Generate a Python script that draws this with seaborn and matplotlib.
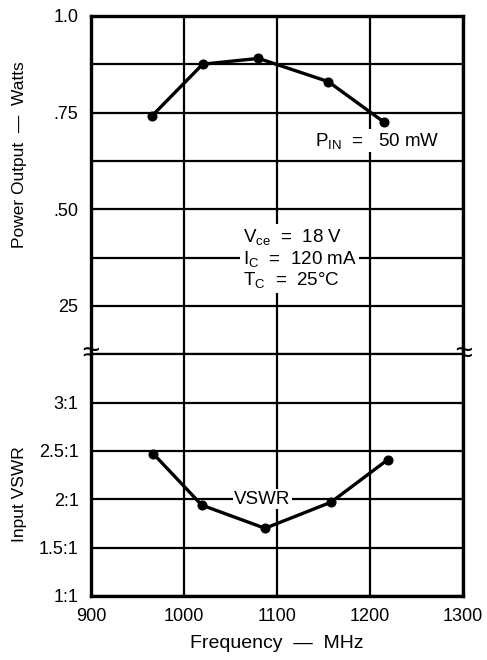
import numpy as np
import pandas as pd
import matplotlib
matplotlib.use("Agg")
import matplotlib.pyplot as plt
import seaborn as sns

## Dados
freq_pout = [965, 1020, 1080, 1155, 1215]
pout = [0.74, 0.875, 0.89, 0.83, 0.725]

freq_vswr = [967, 1019, 1087, 1158, 1219]
vswr = [2.47, 1.94, 1.70, 1.97, 2.41]

x_ticks = [900, 1000, 1100, 1200, 1300]
pout_ticks = [0.25, 0.50, 0.75, 1.0]
pout_labels = ['25', '.50', '.75', '1.0']
pout_minor = [0.375, 0.625, 0.875]
vswr_ticks = [1.0, 1.5, 2.0, 2.5, 3.0]
vswr_labels = ['1:1', '1.5:1', '2:1', '2.5:1', '3:1']

sns.set_style('white')
plt.rcParams['font.family'] = ['Liberation Sans', 'DejaVu Sans']
plt.rcParams['mathtext.default'] = 'regular'
plt.rcParams['text.color'] = 'black'
plt.rcParams['axes.labelcolor'] = 'black'
plt.rcParams['xtick.color'] = 'black'
plt.rcParams['ytick.color'] = 'black'

fig, (ax1, ax2) = plt.subplots(2, 1, sharex=True, figsize=(4.87, 6.6), dpi=100,
                               gridspec_kw=dict(height_ratios=[7, 5], hspace=0))
fig.subplots_adjust(left=0.187, right=0.951, top=0.976, bottom=0.097)

grid_kw = dict(color='black', linewidth=1.6)
box = dict(facecolor='white', edgecolor='none', pad=1)

## Potência de saída
sns.lineplot(x=freq_pout, y=pout, ax=ax1, color='black', linewidth=2.4,
             marker='o', markersize=6.5, markeredgecolor='black', zorder=3)
ax1.set_ylim(0.125, 1.0)
ax1.set_yticks(pout_ticks)
ax1.set_yticklabels(pout_labels)
ax1.set_yticks(pout_minor, minor=True)
ax1.grid(True, which='both', **grid_kw)
ax1.set_ylabel('Power Output  —  Watts', fontsize=12.5)
ax1.yaxis.set_label_coords(-0.172, 0.59)

ax1.text(1208, 0.677, 'P$_{IN}$  =   50 mW', fontsize=13.5, ha='center', va='center',
         bbox=box, zorder=4)
ax1.text(1063, 0.372, 'V$_{ce}$  =  18 V\nI$_{C}$  =  120 mA\nT$_{C}$  =  25°C', fontsize=13.5,
         ha='left', va='center', linespacing=1.1,
         bbox=dict(facecolor='white', edgecolor='none', pad=2), zorder=4)

## VSWR de entrada
sns.lineplot(x=freq_vswr, y=vswr, ax=ax2, color='black', linewidth=2.4,
             marker='o', markersize=6.5, markeredgecolor='black', zorder=3)
ax2.set_ylim(1.0, 3.5)
ax2.set_yticks(vswr_ticks)
ax2.set_yticklabels(vswr_labels)
ax2.grid(True, which='both', **grid_kw)
ax2.set_ylabel('Input VSWR', fontsize=12.5)
ax2.yaxis.set_label_coords(-0.172, 0.42)
ax2.text(1084, 2.0, 'VSWR', fontsize=13.5, ha='center', va='center',
         bbox=box, zorder=4)

ax2.set_xlim(900, 1300)
ax2.set_xticks(x_ticks)
ax2.set_xlabel('Frequency  —  MHz', fontsize=14, labelpad=7)

for ax in (ax1, ax2):
    ax.tick_params(length=0, labelsize=13, pad=9)
    for s in ax.spines.values():
        s.set_linewidth(2.4)
        s.set_color('black')
ax1.spines['bottom'].set_linewidth(1.6)
ax2.spines['top'].set_linewidth(1.6)

## Símbolos de quebra de escala
for xa in (0.0, 1.0):
    ax1.text(xa, 0.0, '≈', transform=ax1.transAxes, fontsize=22, ha='center',
             va='center', clip_on=False, zorder=5)

fig.savefig('out.png', dpi=100)
